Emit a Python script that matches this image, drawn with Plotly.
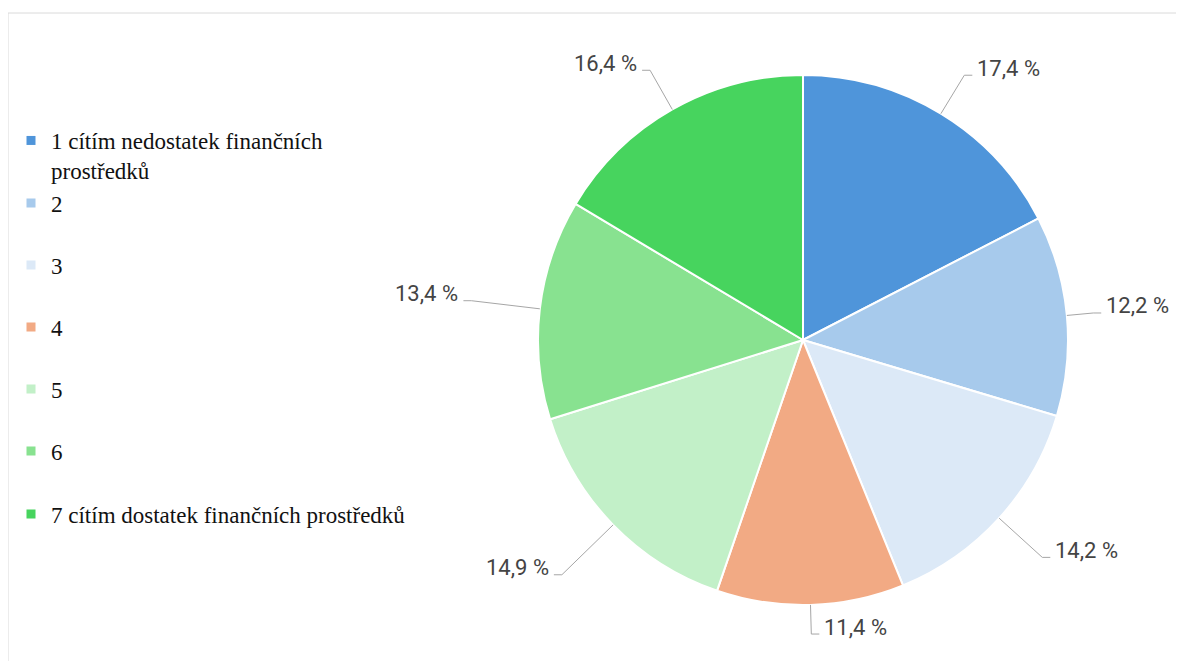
import math
import plotly.graph_objects as go

# ---- data ----
categories = [
    "1 cítím nedostatek finančních prostředků",
    "2", "3", "4", "5", "6",
    "7 cítím dostatek finančních prostředků",
]
legend_labels = [
    "1 cítím nedostatek finančních<br>prostředků",
    "2", "3", "4", "5", "6",
    "7 cítím dostatek finančních prostředků",
]
values = [17.4, 12.2, 14.2, 11.4, 14.9, 13.4, 16.4]
value_labels = ["17,4 %", "12,2 %", "14,2 %", "11,4 %", "14,9 %", "13,4 %", "16,4 %"]
colors = ["#4F95DA", "#A7CAEC", "#DCE9F7", "#F2AA84", "#C2F0C8", "#88E290", "#47D45E"]

# ---- style: leader-line length per label (as a multiple of the radius) ----
leader_ratio = [1.17, 1.10, 1.22, 1.11, 1.27, 1.26, 1.17]

# ---- layout constants (page pixels; page body has an 8px margin) ----
OX, OY = 8, 8
W, H = 1184 - OX, 661 - OY
CX, CY, R = 803, 340, 265
legend_y = [141, 203, 265, 327, 389, 451, 514]

def px(x):
    return (x - OX) / W

def py(y):
    return 1 - (y - OY) / H

fig = go.Figure()

fig.add_trace(go.Pie(
    labels=categories,
    values=values,
    marker=dict(colors=colors, line=dict(color="white", width=2)),
    sort=False,
    direction="clockwise",
    rotation=0,
    textinfo="none",
    hoverinfo="label+percent",
    showlegend=False,
    domain=dict(x=[px(CX - R), px(CX + R)], y=[py(CY + R), py(CY - R)]),
))

# legend entries (one legend per entry for exact spacing)
for i, (lab, col) in enumerate(zip(legend_labels, colors)):
    lname = "legend" if i == 0 else f"legend{i+1}"
    fig.add_trace(go.Scatter(
        x=[None], y=[None], mode="markers",
        marker=dict(symbol="square", size=9, color=col),
        name=lab, legend=lname, showlegend=True, hoverinfo="skip",
    ))

legends = {}
for i, yc in enumerate(legend_y):
    lname = "legend" if i == 0 else f"legend{i+1}"
    cfg = dict(
        x=px(OX + 3), xanchor="left",
        font=dict(family="Liberation Serif", size=23, color="#111111"),
        bgcolor="rgba(0,0,0,0)", borderwidth=0,
        itemclick=False, itemdoubleclick=False,
    )
    if i == 0:
        cfg.update(y=py(yc - 22), yanchor="top", valign="top")
    else:
        cfg.update(y=py(yc), yanchor="middle")
    legends[lname] = cfg

# labels with leader lines, computed from slice angles
total = sum(values)
cum = 0.0
shapes = []
annotations = []
for v, lab, k in zip(values, value_labels, leader_ratio):
    mid = (cum + v / 2) / total * 2 * math.pi
    cum += v
    s, c = math.sin(mid), math.cos(mid)
    x0, y0 = CX + R * s, CY - R * c
    x1, y1 = CX + R * k * s, CY - R * k * c
    side = 1 if s >= 0 else -1
    x2 = x1 + side * 8
    shapes.append(dict(
        type="path", xref="paper", yref="paper",
        path=f"M {px(x0)} {py(y0)} L {px(x1)} {py(y1)} L {px(x2)} {py(y1)}",
        line=dict(color="#A6A6A6", width=1),
    ))
    annotations.append(dict(
        x=px(x2 + side * 3), y=py(y1 - 7), xref="paper", yref="paper",
        text=lab, showarrow=False,
        xanchor="left" if side > 0 else "right", yanchor="middle",
        font=dict(family="Roboto", size=22, color="#444444"),
    ))

# chart border
shapes.append(dict(
    type="rect", xref="paper", yref="paper",
    x0=px(8), y0=-0.05, x1=1.05, y1=py(13),
    line=dict(color="#DADADA", width=1), fillcolor="rgba(0,0,0,0)",
    layer="below",
))

fig.update_layout(
    width=W, height=H,
    margin=dict(l=0, r=0, t=0, b=0),
    paper_bgcolor="white", plot_bgcolor="white",
    xaxis=dict(visible=False), yaxis=dict(visible=False),
    shapes=shapes, annotations=annotations,
    **legends,
)

fig.write_html("out.html")
